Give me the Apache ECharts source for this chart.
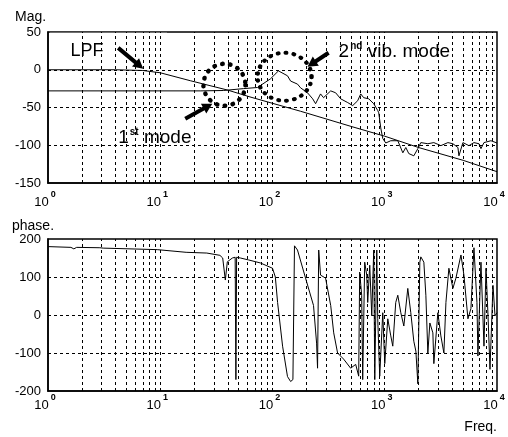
<!DOCTYPE html>
<html>
<head>
<meta charset="utf-8">
<script src="https://cdn.jsdelivr.net/npm/echarts@6/dist/echarts.min.js"></script>
<style>
html,body{margin:0;padding:0;background:#fff;}
#main{width:508px;height:437px;}
</style>
</head>
<body>
<div id="main"></div>
<script>
// LPF 幅值
var lpfFreq = [1, 4, 7, 10, 18.5, 40, 63, 178, 500, 1000, 2000, 5000, 10000];
var lpfMag  = [0, 0, -1, -4, -14.5, -27, -36, -55, -75, -88, -103, -120, -135];
// 对象幅值
var magFreq = [1, 10, 23, 36.5, 55, 73.5, 96, 113, 136, 145, 167, 178, 205, 228, 242, 268, 285, 330, 365, 405,
  468, 518, 574, 611, 649, 720, 798, 866, 884, 921, 960, 1021, 1132, 1307, 1449, 1540, 1637, 1815, 1972, 2096,
  2421, 2738, 3162, 3652, 4047, 4487, 4580, 4970, 5623, 6234, 6910, 7197, 7655, 8836, 10000];
var magVal  = [-28, -28, -28, -27.5, -25, -23.5, -12, -1.5, -8, -15, -19, -24, -30.5, -38.5, -45, -32, -37, -28, -30.5, -38.5,
  -43.5, -47.5, -41, -32, -37, -38.5, -45, -54, -57, -77, -91, -97, -94, -94, -110, -103, -111, -114, -104.5, -96.5,
  -98, -96.5, -100.5, -96.5, -98, -103, -114, -96.5, -100.5, -96.5, -98, -104.5, -96.5, -94, -97];
// 相位
var phaseFreq = [1, 1.6, 1.7, 1.8, 2.9, 3.0, 3.1, 9.4, 17, 26, 34, 36, 38, 39.6, 43.9, 46.5, 47.2, 47.9, 51.8, 61,
  78, 100, 106, 111, 123, 136, 145, 152, 157, 160, 167, 197, 232, 247, 252, 258, 263, 268, 297, 330,
  351, 380, 430, 497, 551, 586, 598, 623, 636, 663, 691, 705, 735, 766, 798, 815, 849, 866, 902, 960,
  1000, 1064, 1132, 1179, 1253, 1307, 1390, 1479, 1604, 1706, 1815, 1893, 1972, 2054, 2096, 2230, 2324, 2421, 2523, 2683,
  2738, 2972, 3162, 3364, 3508, 3727, 4047, 4305, 4775, 5075, 5508, 5858, 6234, 6627, 6761, 7197, 7655, 7980, 8318, 8660,
  9207, 9600, 10000];
var phaseDeg = [180, 178, 174, 178, 177, 172, 176, 172, 165, 163, 157, 150, 92, 140, 150, 152, -170, 152, 150, 145,
  137, 123, 100, 33, -82, -162, -175, -170, 182, 182, 171, 97, 25, -74, -140, 171, 171, 105, 97, 25,
  -47, -100, -116, -140, -130, -161, 113, 52, -170, 139, 105, 33, 131, -2, 171, -170, 171, -10, -161, 6,
  -128, -10, -55, -82, 33, 52, 6, -29, 70, 6, -69, -95, -181, 139, 153, 139, 52, -100, -21, -47,
  -128, 6, -55, -100, 33, 123, 70, 97, 158, 105, -10, 17, 177, 33, -108, 139, -82, 123, -2, -143,
  78, -2, 6];
// 网格线位置
var gridFreqs = [2, 3, 4, 5, 6, 7, 8, 9, 10, 20, 30, 40, 50, 60, 70, 80, 90, 100,
  200, 300, 400, 500, 600, 700, 800, 900, 1000, 2000, 3000, 4000, 5000, 6000, 7000, 8000, 9000];
var magTicks = [-100, -50, 0];
var phaseTicks = [-100, 0, 100];

function zip(a, b){
  var r = [];
  for (var i = 0; i < a.length; i++) r.push([a[i], b[i]]);
  return r;
}

var FONT = '"Liberation Sans", Arial, sans-serif';
var dash = {type: [3, 3], color: '#000', width: 1};

function xAxisOf(g, margin){
  return {
    type: 'log', logBase: 10, min: 1, max: 10000, gridIndex: g,
    axisLine: {show: true, onZero: false, lineStyle: {color: '#000', width: 1.5}},
    axisTick: {show: false},
    splitLine: {show: false},
    minorSplitLine: {show: false},
    axisLabel: {
      margin: margin, color: '#000', padding: [0, 6, 0, 0],
      formatter: function(v){
        var e = Math.round(Math.log(v) / Math.LN10);
        return '{b|10}{s|' + e + '}';
      },
      rich: {
        b: {fontSize: 13, fontFamily: FONT, color: '#000', lineHeight: 19, verticalAlign: 'bottom'},
        s: {fontSize: 9, fontFamily: FONT, fontWeight: 'bold', color: '#000', lineHeight: 10, verticalAlign: 'top', padding: [0, 0, 0, 2]}
      }
    }
  };
}
function yAxisOf(g, mn, mx, step){
  return {
    type: 'value', gridIndex: g, min: mn, max: mx, interval: step,
    axisLine: {show: true, onZero: false, lineStyle: {color: '#000', width: 1.5}},
    axisTick: {show: false},
    splitLine: {show: false},
    axisLabel: {color: '#000', fontSize: 13, fontFamily: FONT, margin: 7}
  };
}
function vGrid(g){
  return {
    type: 'line', xAxisIndex: g, yAxisIndex: g, data: [], z: 1, silent: true,
    markLine: {silent: true, symbol: 'none', animation: false, label: {show: false},
      lineStyle: dash, data: gridFreqs.map(function(f){ return {xAxis: f}; })}
  };
}
function hGrid(g, ticks){
  return {
    type: 'line', xAxisIndex: g, yAxisIndex: g, data: [], z: 3, silent: true,
    markLine: {silent: true, symbol: 'none', animation: false, label: {show: false},
      lineStyle: dash, data: ticks.map(function(v){ return {yAxis: v}; })}
  };
}
function curve(g, data){
  return {
    type: 'line', xAxisIndex: g, yAxisIndex: g, data: data, z: 5,
    showSymbol: false, symbol: 'none', silent: true,
    lineStyle: {color: '#000', width: 1}
  };
}

var option = {
  animation: false,
  backgroundColor: '#fff',
  grid: [
    {left: 48, top: 32, width: 449, height: 151, show: true, borderColor: '#000', borderWidth: 1.5, backgroundColor: '#fff'},
    {left: 48, top: 239, width: 449, height: 152, show: true, borderColor: '#000', borderWidth: 1.5, backgroundColor: '#fff'}
  ],
  xAxis: [xAxisOf(0, 7), xAxisOf(1, 2)],
  yAxis: [yAxisOf(0, -150, 50, 50), yAxisOf(1, -200, 200, 100)],
  series: [
    vGrid(0), hGrid(0, magTicks), vGrid(1), hGrid(1, phaseTicks),
    curve(0, zip(lpfFreq, lpfMag)),
    curve(0, zip(magFreq, magVal)),
    curve(1, zip(phaseFreq, phaseDeg))
  ]
};

var chart = echarts.init(document.getElementById('main'));
chart.setOption(option);

function px(g, f, v){ return chart.convertToPixel({gridIndex: g}, [f, v]); }

function arrow(p0, p1){
  var dx = p1[0] - p0[0], dy = p1[1] - p0[1], len = Math.sqrt(dx * dx + dy * dy);
  var ux = dx / len, uy = dy / len, nx = -uy, ny = ux;
  var hl = 10, hw = 5.5, sw = 2;
  var bx = p1[0] - ux * hl, by = p1[1] - uy * hl;
  return {type: 'polygon', z: 20, silent: true, shape: {points: [
    [p0[0] + nx * sw, p0[1] + ny * sw], [bx + nx * sw, by + ny * sw], [bx + nx * hw, by + ny * hw], p1,
    [bx - nx * hw, by - ny * hw], [bx - nx * sw, by - ny * sw], [p0[0] - nx * sw, p0[1] - ny * sw]]},
    style: {fill: '#000'}};
}
function whiteBox(g, f0, v0, f1, v1, z){
  var a = px(g, f0, v0), b = px(g, f1, v1);
  return {type: 'rect', z: z, silent: true,
    shape: {x: a[0], y: a[1], width: b[0] - a[0], height: b[1] - a[1]},
    style: {fill: '#fff'}};
}
function ring(g, f, v, rx, ry){
  var c = px(g, f, v);
  return {type: 'circle', z: 20, silent: true, x: c[0], y: c[1], scaleY: ry / rx,
    shape: {cx: 0, cy: 0, r: rx},
    style: {fill: 'none', stroke: '#000', lineWidth: 4.5, lineDash: [0.5, 7.5], lineCap: 'round'}};
}
function label(p, txt, size, align){
  return {type: 'text', z: 21, silent: true, x: p[0], y: p[1],
    style: {text: txt, font: size + 'px ' + FONT, fill: '#000', textAlign: align || 'left', textVerticalAlign: 'middle'}};
}
function supLabel(p, main, sup, rest, size){
  return {type: 'text', z: 21, silent: true, x: p[0], y: p[1],
    style: {text: '{a|' + main + '}{s|' + sup + '}{a|' + rest + '}', textVerticalAlign: 'middle', fill: '#000',
      rich: {
        a: {fontSize: size, fontFamily: FONT, color: '#000', lineHeight: size + 2, verticalAlign: 'bottom'},
        s: {fontSize: 10, fontFamily: FONT, color: '#000', fontWeight: 'bold', lineHeight: 10, verticalAlign: 'top', padding: [1, 0, 0, 1]}
      }}};
}

var lpfPos = px(0, 2.23, 25), lpfA = px(0, 4.22, 29), lpfB = px(0, 7.05, 1.3);
var m1Pos = px(0, 4.22, -88.7), m1A = px(0, 16.7, -65), m1B = px(0, 29.1, -45);
var m2Pos = px(0, 388, 25.2), m2A = px(0, 316, 22.5), m2B = px(0, 205, 4);

chart.setOption({
  graphic: [
    whiteBox(0, 1.04, 49, 11.5, 4, 2),
    whiteBox(0, 3.58, -67.5, 32.4, -107, 4),
    whiteBox(0, 350, 42, 4578, 9, 4),
    ring(0, 37.3, -19.9, 21, 21),
    ring(0, 128, -9.3, 27, 24),
    arrow(lpfA, lpfB), arrow(m1A, m1B), arrow(m2A, m2B),
    label(lpfPos, 'LPF', 18, 'center'),
    supLabel(m1Pos, '1', 'st', ' mode', 19),
    supLabel(m2Pos, '2', 'nd', ' vib. mode', 19),
    label([15, 17], 'Mag.', 14),
    label([12, 226], 'phase.', 14),
    label([497, 427], 'Freq.', 14, 'right')
  ]
});
</script>
</body>
</html>
